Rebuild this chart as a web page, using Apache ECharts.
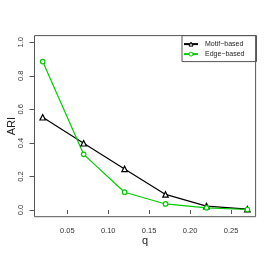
<!DOCTYPE html>
<html><head><meta charset="utf-8">
<script src="https://cdn.jsdelivr.net/npm/echarts@6/dist/echarts.min.js"></script>
<style>html,body{margin:0;padding:0;background:#fff}#c{width:273px;height:262px}</style>
</head><body><div id="c"></div>
<script>
var qValues = [0.02, 0.07, 0.12, 0.17, 0.22, 0.27];
var motifBased = [0.553, 0.398, 0.245, 0.093, 0.023, 0.005];
var edgeBased = [0.885, 0.332, 0.106, 0.036, 0.013, 0.003];
var xTicks = [0.05, 0.10, 0.15, 0.20, 0.25];
var yTicks = [0.0, 0.2, 0.4, 0.6, 0.8, 1.0];

var font = 'Liberation Sans, Arial, sans-serif';
var chart = echarts.init(document.getElementById('c'), null, {renderer: 'canvas'});
function pairs(xs, ys){ return xs.map(function(x,i){return [x, ys[i]];}); }
chart.setOption({
  animation: false,
  backgroundColor: '#fff',
  grid: {left: 34.5, right: 17.4, top: 35.6, bottom: 45.3, containLabel: false, outerBoundsMode: 'none',
         show: true, borderColor: '#555', borderWidth: 1, backgroundColor: 'transparent'},
  xAxis: {
    type: 'value', min: 0.01, max: 0.28,
    name: 'q', nameLocation: 'middle', nameGap: 19, nameMoveOverlap: false,
    nameTextStyle: {fontFamily: font, fontSize: 11, color: '#222'},
    axisLine: {show: false},
    splitLine: {show: false},
    axisTick: {show: true, length: 4, inside: false, customValues: xTicks, lineStyle: {color: '#555'}},
    axisLabel: {customValues: xTicks, fontFamily: font, fontSize: 7.5, color: '#333', margin: 10,
      formatter: function(v){ return v.toFixed(2); }}
  },
  yAxis: {
    type: 'value', min: -0.04, max: 1.04,
    name: 'ARI', nameLocation: 'middle', nameGap: 17, nameRotate: 90, nameMoveOverlap: false,
    nameTextStyle: {fontFamily: font, fontSize: 11, color: '#222'},
    axisLine: {show: false},
    splitLine: {show: false},
    axisTick: {show: true, length: 5, customValues: yTicks, lineStyle: {color: '#555'}},
    axisLabel: {customValues: yTicks, fontFamily: font, fontSize: 7.5, color: '#333', rotate: 90, margin: 10,
      formatter: function(v){ return v.toFixed(1); }}
  },
  legend: {
    left: 182, top: 35.6,
    orient: 'vertical',
    borderColor: '#555', borderWidth: 1, borderRadius: 0,
    padding: [5, 12, 4, 1],
    itemWidth: 14, itemHeight: 5, itemGap: 3,
    textStyle: {fontFamily: font, fontSize: 7, color: '#222', padding: [0,0,0,2]},
    data: [
      {name: 'Motif\u2212based', itemStyle: {color: '#fff', borderColor: '#000', borderWidth: 1}},
      {name: 'Edge\u2212based', itemStyle: {color: '#fff', borderColor: '#00cd00', borderWidth: 1}}
    ]
  },
  series: [
    {name: 'Motif\u2212based', type: 'line', data: pairs(qValues, motifBased),
     symbol: 'triangle', symbolSize: 5.5, showAllSymbol: true,
     lineStyle: {color: '#000', width: 1.2}, itemStyle: {color: '#fff', borderColor: '#000', borderWidth: 1.2}},
    {name: 'Edge\u2212based', type: 'line', data: pairs(qValues, edgeBased),
     symbol: 'circle', symbolSize: 4.5, showAllSymbol: true,
     lineStyle: {color: '#00cd00', width: 1.2}, itemStyle: {color: '#fff', borderColor: '#00cd00', borderWidth: 1.2}}
  ]
});
</script></body></html>
